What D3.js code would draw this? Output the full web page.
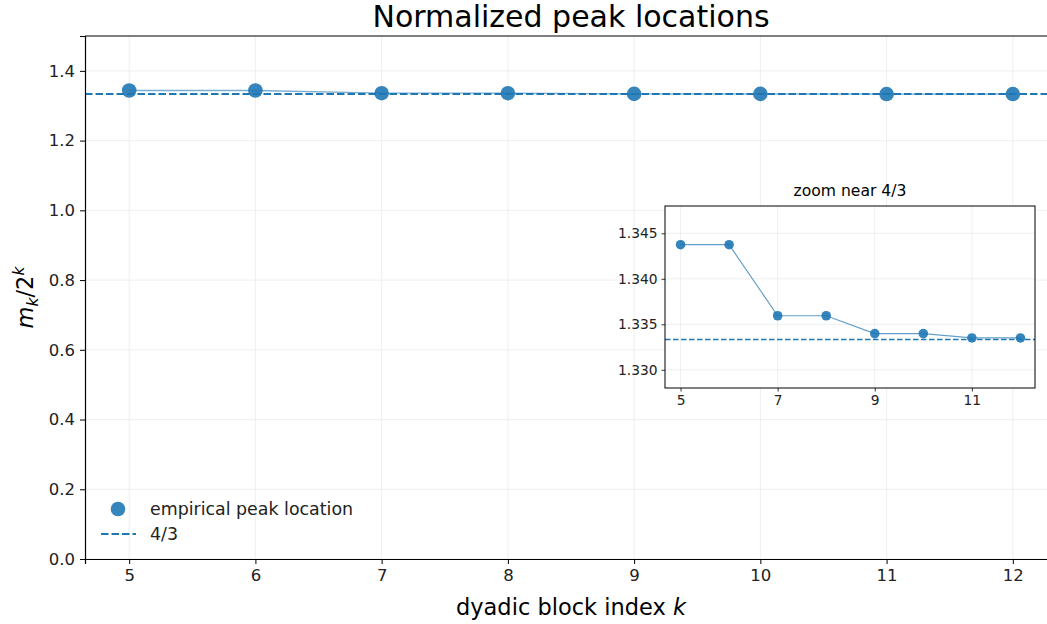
<!DOCTYPE html>
<html>
<head>
<meta charset="utf-8">
<script src="https://cdnjs.cloudflare.com/ajax/libs/d3/7.8.5/d3.min.js"></script>
<style>
  body { margin: 0; background: #fff; }
  svg { display: block; font-family: "DejaVu Sans", sans-serif; }
  .grid line { stroke: #ebebeb; stroke-width: 0.8; }
</style>
</head>
<body>
<svg id="chart" width="1047" height="624"></svg>
<script>
const blockIndex = [5, 6, 7, 8, 9, 10, 11, 12];
const peakRatio = [1.34375, 1.34375, 1.33594, 1.33594, 1.33398, 1.33398, 1.33350, 1.33350];
const reference = 4 / 3;
const mainYTicks = [0, 0.2, 0.4, 0.6, 0.8, 1.0, 1.2, 1.4];
const mainXTicks = [5, 6, 7, 8, 9, 10, 11, 12];
const insetYTicks = [1.330, 1.335, 1.340, 1.345];
const insetXTicks = [5, 7, 9, 11];

const blue = "#1f77b4";
const svg = d3.select("#chart");

// main axes
const m = {left: 85, right: 1057, top: 36, bottom: 559};
const x = d3.scaleLinear().domain([4.65, 12.35]).range([m.left, m.right]);
const y = d3.scaleLinear().domain([0, 1.5]).range([m.bottom, m.top]);

const grid = svg.append("g").attr("class", "grid");
grid.selectAll(".gx").data(mainXTicks).join("line")
  .attr("x1", d => x(d)).attr("x2", d => x(d))
  .attr("y1", m.top).attr("y2", m.bottom);
grid.selectAll(".gy").data(mainYTicks).join("line")
  .attr("x1", m.left).attr("x2", m.right)
  .attr("y1", d => y(d)).attr("y2", d => y(d));

// reference line
svg.append("line")
  .attr("x1", m.left).attr("x2", m.right)
  .attr("y1", y(reference)).attr("y2", y(reference))
  .attr("stroke", blue).attr("stroke-width", 2)
  .attr("stroke-dasharray", "7.5,3");

const pts = blockIndex.map((k, i) => [k, peakRatio[i]]);
svg.append("path")
  .attr("d", d3.line().x(d => x(d[0])).y(d => y(d[1]))(pts))
  .attr("fill", "none").attr("stroke", blue)
  .attr("stroke-opacity", 0.6).attr("stroke-width", 1.3);
svg.selectAll(".pt").data(pts).join("circle")
  .attr("cx", d => x(d[0])).attr("cy", d => y(d[1]))
  .attr("r", 7.3).attr("fill", blue).attr("fill-opacity", 0.9);

// axes
const xAxis = svg.append("g")
  .attr("transform", `translate(0,${m.bottom})`)
  .call(d3.axisBottom(x).tickValues(mainXTicks).tickFormat(d3.format("d"))
    .tickSizeOuter(0).tickSize(5).tickPadding(5));
const yAxis = svg.append("g")
  .attr("transform", `translate(${m.left},0)`)
  .call(d3.axisLeft(y).tickValues(mainYTicks).tickFormat(d3.format(".1f"))
    .tickSizeOuter(0).tickSize(5).tickPadding(5));
[xAxis, yAxis].forEach(a => {
  a.select(".domain").attr("stroke", "#000").attr("stroke-width", 1.2);
  a.selectAll(".tick line").attr("stroke", "#000").attr("stroke-width", 1);
  a.selectAll(".tick text").attr("font-size", 16.5).attr("fill", "#222")
    .style("font-family", "DejaVu Sans");
});
svg.append("line").attr("x1", m.left).attr("x2", m.right)
  .attr("y1", m.top).attr("y2", m.top).attr("stroke", "#000").attr("stroke-width", 1.2);

svg.append("text").attr("x", (m.left + m.right) / 2).attr("y", 27)
  .attr("text-anchor", "middle").attr("font-size", 30).attr("fill", "#000")
  .text("Normalized peak locations");

const xl = svg.append("text").attr("x", (m.left + m.right) / 2).attr("y", 615)
  .attr("text-anchor", "middle").attr("font-size", 22.5).attr("fill", "#000");
xl.append("tspan").text("dyadic block index ");
xl.append("tspan").attr("font-style", "italic").text("k");

const yl = svg.append("text")
  .attr("transform", `translate(33,${(m.top + m.bottom) / 2}) rotate(-90)`)
  .attr("text-anchor", "middle").attr("font-size", 22.5).attr("fill", "#000");
yl.append("tspan").attr("font-style", "italic").text("m");
yl.append("tspan").attr("font-style", "italic").attr("font-size", 15.5).attr("dy", 5).text("k");
yl.append("tspan").attr("dy", -5).text("/2");
yl.append("tspan").attr("font-style", "italic").attr("font-size", 15.5).attr("dy", -9).text("k");

// legend
const lg = svg.append("g");
lg.append("circle").attr("cx", 118).attr("cy", 509).attr("r", 7.3)
  .attr("fill", blue).attr("fill-opacity", 0.9);
lg.append("line").attr("x1", 101).attr("x2", 136).attr("y1", 534).attr("y2", 534)
  .attr("stroke", blue).attr("stroke-width", 2).attr("stroke-dasharray", "7.5,3");
lg.append("text").attr("x", 150).attr("y", 515).attr("font-size", 17.4).attr("fill", "#222")
  .text("empirical peak location");
lg.append("text").attr("x", 150).attr("y", 540).attr("font-size", 17.4).attr("fill", "#222")
  .text("4/3");

// inset
const n = {left: 665, right: 1035, top: 206, bottom: 388};
const ix = d3.scaleLinear().domain([4.68, 12.3]).range([n.left, n.right]);
const iy = d3.scaleLinear().domain([1.328, 1.348]).range([n.bottom, n.top]);

svg.append("rect").attr("x", n.left).attr("y", n.top)
  .attr("width", n.right - n.left).attr("height", n.bottom - n.top).attr("fill", "#fff");

const igrid = svg.append("g").attr("class", "grid");
igrid.selectAll(".gx").data(insetXTicks).join("line")
  .attr("x1", d => ix(d)).attr("x2", d => ix(d))
  .attr("y1", n.top).attr("y2", n.bottom);
igrid.selectAll(".gy").data(insetYTicks).join("line")
  .attr("x1", n.left).attr("x2", n.right)
  .attr("y1", d => iy(d)).attr("y2", d => iy(d));

svg.append("line")
  .attr("x1", n.left).attr("x2", n.right)
  .attr("y1", iy(reference)).attr("y2", iy(reference))
  .attr("stroke", blue).attr("stroke-width", 1.5)
  .attr("stroke-dasharray", "5.5,2.5");
svg.append("path")
  .attr("d", d3.line().x(d => ix(d[0])).y(d => iy(d[1]))(pts))
  .attr("fill", "none").attr("stroke", blue)
  .attr("stroke-opacity", 0.7).attr("stroke-width", 1.2);
svg.selectAll(".ipt").data(pts).join("circle")
  .attr("cx", d => ix(d[0])).attr("cy", d => iy(d[1]))
  .attr("r", 4.8).attr("fill", blue).attr("fill-opacity", 0.9);

const ixAxis = svg.append("g")
  .attr("transform", `translate(0,${n.bottom})`)
  .call(d3.axisBottom(ix).tickValues(insetXTicks).tickFormat(d3.format("d"))
    .tickSizeOuter(0).tickSize(3.5).tickPadding(4));
const iyAxis = svg.append("g")
  .attr("transform", `translate(${n.left},0)`)
  .call(d3.axisLeft(iy).tickValues(insetYTicks).tickFormat(d3.format(".3f"))
    .tickSizeOuter(0).tickSize(3.5).tickPadding(4));
[ixAxis, iyAxis].forEach(a => {
  a.select(".domain").remove();
  a.selectAll(".tick line").attr("stroke", "#000").attr("stroke-width", 0.8);
  a.selectAll(".tick text").attr("font-size", 13.8).attr("fill", "#222")
    .style("font-family", "DejaVu Sans");
});
svg.append("rect").attr("x", n.left).attr("y", n.top)
  .attr("width", n.right - n.left).attr("height", n.bottom - n.top)
  .attr("fill", "none").attr("stroke", "#000").attr("stroke-width", 1);
svg.append("text").attr("x", (n.left + n.right) / 2).attr("y", 196)
  .attr("text-anchor", "middle").attr("font-size", 15.6).attr("fill", "#000")
  .text("zoom near 4/3");
</script>
</body>
</html>
